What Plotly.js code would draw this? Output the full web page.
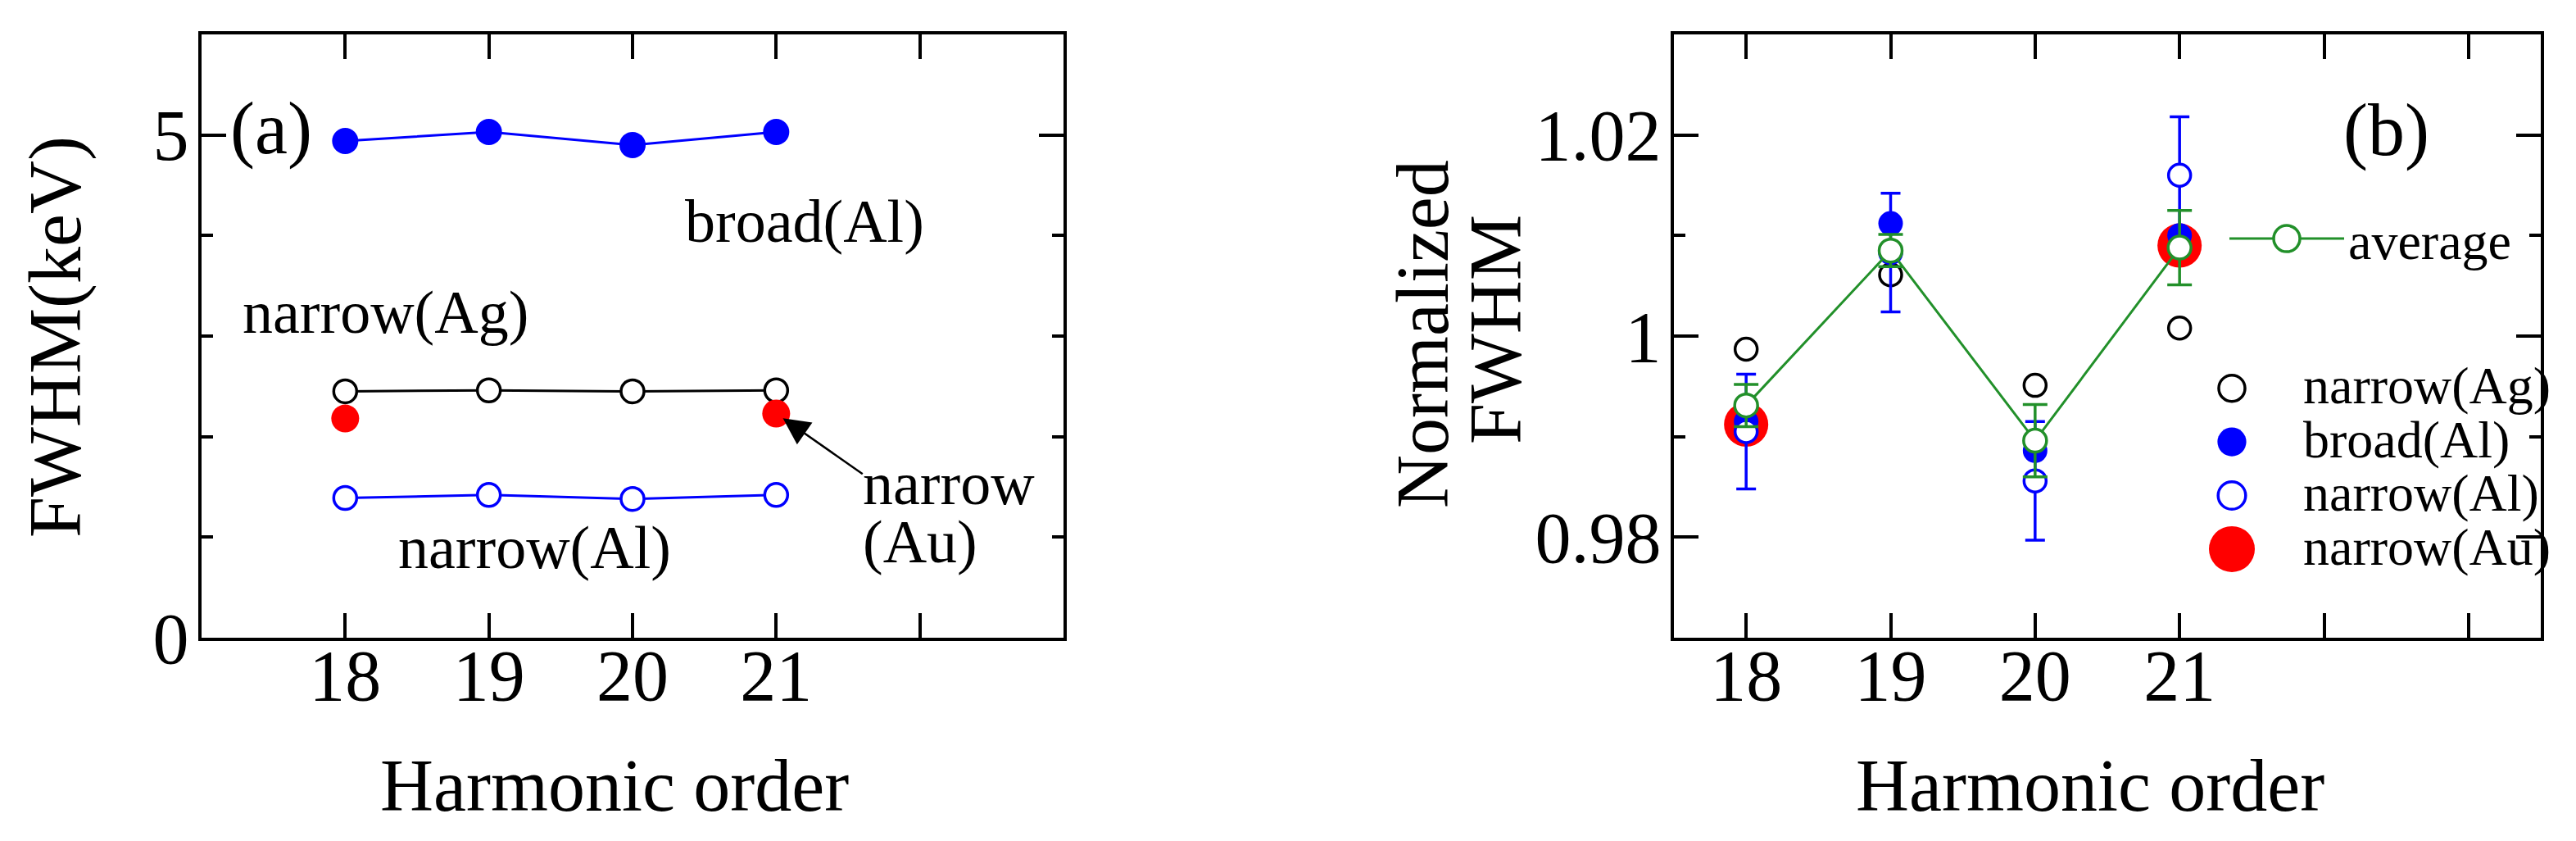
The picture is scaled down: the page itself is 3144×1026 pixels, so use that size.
<!DOCTYPE html>
<html>
<head>
<meta charset="utf-8">
<script src="https://cdn.plot.ly/plotly-3.0.1.min.js"></script>
<style>
  html, body { margin: 0; padding: 0; background: #fff; }
  #chart { width: 3144px; height: 1026px; }
</style>
</head>
<body>
<div id="chart"></div>
<script>
// harmonic orders
var orders = [18, 19, 20, 21];
var auOrders = [18, 21];

// (a) FWHM in keV
var broadAl = [4.94, 5.03, 4.90, 5.03];
var narrowAg = [2.45, 2.46, 2.45, 2.46];
var narrowAu = [2.18, 2.23];
var narrowAl = [1.39, 1.42, 1.38, 1.42];

// (b) normalized FWHM
var normAg = [0.9987, 1.0061, 0.9951, 1.0008];
var normBroadAl = [0.9915, 1.0112, 0.9886, 1.0100];
var normNarrowAl = [0.9905, 1.0083, 0.9856, 1.0160];
var normNarrowAlErr = [0.0057, 0.0059, 0.0059, 0.0058];
var normAu = [0.9912, 1.0090];
var normAvg = [0.9931, 1.0085, 0.9896, 1.0088];
var normAvgErr = [0.0021, 0.0016, 0.0036, 0.0037];

// ticks
var xTicksA = [18, 19, 20, 21, 22];
var xTextA = ['18', '19', '20', '21', ''];
var xTicksB = [18, 19, 20, 21, 22, 23];
var xTextB = ['18', '19', '20', '21', '', ''];
var yTicksA = [0, 5];
var yTextA = ['0', '5'];
var yTicksB = [0.98, 1, 1.02];
var yTextB = ['0.98', '1', '1.02'];

var FONT = 'Liberation Serif, Times New Roman, serif';
var BLUE = '#0000ff';
var RED = '#ff0000';
var GREEN = '#22902a';

function openMarker(col, size) {
  return {symbol: 'circle', size: size, color: '#ffffff', line: {color: col, width: 3.5}};
}
function leg(name) {
  return '<span style="font-size:64px">' + name + '</span>';
}

var traces = [
  // panel (a)
  {x: orders, y: broadAl, xaxis: 'x', yaxis: 'y', mode: 'lines+markers', showlegend: false,
   line: {color: BLUE, width: 3}, marker: {symbol: 'circle', size: 32, color: BLUE}},
  {x: orders, y: narrowAg, xaxis: 'x', yaxis: 'y', mode: 'lines+markers', showlegend: false,
   line: {color: 'black', width: 3}, marker: openMarker('black', 28)},
  {x: orders, y: narrowAl, xaxis: 'x', yaxis: 'y', mode: 'lines+markers', showlegend: false,
   line: {color: BLUE, width: 3}, marker: openMarker(BLUE, 28)},
  {x: auOrders, y: narrowAu, xaxis: 'x', yaxis: 'y', mode: 'markers', showlegend: false,
   marker: {symbol: 'circle', size: 34, color: RED}},

  // panel (b)
  {x: orders, y: normAg, xaxis: 'x2', yaxis: 'y2', mode: 'markers', name: leg('narrow(Ag)'),
   legend: 'legend2', legendrank: 1, marker: openMarker('black', 27)},
  {x: auOrders, y: normAu, xaxis: 'x2', yaxis: 'y2', mode: 'markers', name: leg('narrow(Au)'),
   legend: 'legend2', legendrank: 4, marker: {symbol: 'circle', size: 54, color: RED}},
  {x: orders, y: normBroadAl, xaxis: 'x2', yaxis: 'y2', mode: 'markers', name: leg('broad(Al)'),
   legend: 'legend2', legendrank: 2, marker: {symbol: 'circle', size: 30, color: BLUE}},
  {x: orders, y: normNarrowAl, xaxis: 'x2', yaxis: 'y2', mode: 'markers', name: leg('narrow(Al)'),
   legend: 'legend2', legendrank: 3, marker: openMarker(BLUE, 27),
   error_y: {type: 'data', array: normNarrowAlErr, color: BLUE, thickness: 3.5, width: 12}},
  {x: orders, y: normAvg, xaxis: 'x2', yaxis: 'y2', mode: 'lines+markers', name: 'average',
   legend: 'legend', line: {color: GREEN, width: 3}, marker: openMarker(GREEN, 28),
   error_y: {type: 'data', array: normAvgErr, color: GREEN, thickness: 3.5, width: 15}}
];

function xAxis(domain, range, vals, text, anchor) {
  return {
    domain: domain, range: range, anchor: anchor, tickmode: 'array', tickvals: vals, ticktext: text,
    ticks: 'inside', ticklen: 30, tickwidth: 4, tickcolor: 'black',
    showline: true, linewidth: 4, linecolor: 'black', mirror: 'ticks',
    showgrid: false, zeroline: false, ticklabelstandoff: -34,
    tickfont: {family: FONT, size: 88, color: 'black'}
  };
}
function yAxis(domain, range, vals, text, minorStep, anchor) {
  return {
    domain: domain, range: range, anchor: anchor, tickmode: 'array', tickvals: vals, ticktext: text,
    ticks: 'inside', ticklen: 30, tickwidth: 4, tickcolor: 'black',
    minor: {tickmode: 'linear', tick0: 0, dtick: minorStep, ticks: 'inside', ticklen: 14,
            tickwidth: 4, tickcolor: 'black'},
    showline: true, linewidth: 4, linecolor: 'black', mirror: 'ticks',
    showgrid: false, zeroline: false, ticklabelstandoff: -6,
    tickfont: {family: FONT, size: 88, color: 'black'}
  };
}

var yDom = [248 / 1026, 984 / 1026];
var textFont = {family: FONT, size: 74, color: 'black'};
var bigFont = {family: FONT, size: 90, color: 'black'};

function note(xref, yref, x, y, text, font, extra) {
  return Object.assign({xref: xref, yref: yref, x: x, y: y, text: text, showarrow: false,
                        xanchor: 'center', yanchor: 'middle', font: font}, extra || {});
}

var annotations = [
  // panel (a) labels
  note('x', 'y', 17.485, 5.065, '(a)', bigFont),
  note('x', 'y', 21.2, 4.14, 'broad(Al)', textFont),
  note('x', 'y', 18.28, 3.24, 'narrow(Ag)', textFont),
  note('x', 'y', 19.32, 0.9, 'narrow(Al)', textFont),
  note('x', 'y', 21.59, 1.53, 'narrow', textFont, {xanchor: 'left'}),
  note('x', 'y', 21.59, 0.95, '(Au)', textFont, {xanchor: 'left'}),
  {xref: 'x', yref: 'y', axref: 'x', ayref: 'y', x: 21, y: 2.23, ax: 21.61, ay: 1.62, text: '',
   showarrow: true, arrowhead: 2, arrowsize: 2.6, arrowwidth: 2.5, arrowcolor: 'black', standoff: 10},
  // panel (b) label
  note('x2', 'y2', 22.43, 1.0205, '(b)', bigFont),
  // axis titles
  note('paper', 'paper', 750 / 3144, 1 - 958 / 1026, 'Harmonic order', bigFont),
  note('paper', 'paper', 2551 / 3144, 1 - 958 / 1026, 'Harmonic order', bigFont),
  note('paper', 'paper', 68 / 3144, 1 - 411 / 1026, 'FWHM(keV)', bigFont, {textangle: -90}),
  note('paper', 'paper', 1736 / 3144, 1 - 408 / 1026, 'Normalized', bigFont, {textangle: -90}),
  note('paper', 'paper', 1825 / 3144, 1 - 402 / 1026, 'FWHM', bigFont, {textangle: -90})
];

var layout = {
  width: 3144, height: 1026,
  margin: {l: 0, r: 0, t: 0, b: 0},
  paper_bgcolor: '#ffffff', plot_bgcolor: '#ffffff',
  font: {family: FONT, color: 'black'},
  xaxis: xAxis([246 / 3144, 1298 / 3144], [17, 23], xTicksA, xTextA, 'y'),
  yaxis: yAxis(yDom, [0, 6], yTicksA, yTextA, 1, 'x'),
  xaxis2: xAxis([2043 / 3144, 3101 / 3144], [17.5, 23.5], xTicksB, xTextB, 'y2'),
  yaxis2: yAxis(yDom, [0.97, 1.03], yTicksB, yTextB, 0.01, 'x2'),
  showlegend: true,
  legend: {x: 2716 / 3144, y: 1 - 243 / 1026, xanchor: 'left', yanchor: 'top',
           bgcolor: 'rgba(0,0,0,0)', borderwidth: 0, itemwidth: 140,
           font: {family: FONT, size: 64, color: 'black'}},
  legend2: {x: 2637 / 3144, y: 1 - 436 / 1026, xanchor: 'left', yanchor: 'top',
            bgcolor: 'rgba(0,0,0,0)', borderwidth: 0, itemwidth: 164, traceorder: 'normal',
            font: {family: FONT, size: 48, color: 'black'}},
  annotations: annotations
};

// legend symbols are capped at 16px by plotly, so blow them up to the
// size used in the figure, picked by the symbol's fill / outline colour
function legendScale(p) {
  var fill = p.style.fill.replace(/\s/g, '');
  var stroke = p.style.stroke.replace(/\s/g, '');
  if (fill === 'rgb(255,0,0)') return 3.5;
  if (fill === 'rgb(0,0,255)') return 2.2;
  if (stroke === 'rgb(0,0,255)') return 2.1;
  return 2;
}

function growLegendSymbols(gd) {
  gd.querySelectorAll('g.traces .legendpoints path.scatterpts').forEach(function (p) {
    if (p.getAttribute('data-grown')) return;
    p.setAttribute('transform', (p.getAttribute('transform') || '') + ' scale(' + legendScale(p) + ')');
    p.setAttribute('data-grown', '1');
    p.style.vectorEffect = 'non-scaling-stroke';
  });
}

Plotly.newPlot('chart', traces, layout, {displayModeBar: false, responsive: false, staticPlot: true})
  .then(function (gd) {
    growLegendSymbols(gd);
    gd.on('plotly_afterplot', function () { growLegendSymbols(gd); });
  });
</script>
</body>
</html>
